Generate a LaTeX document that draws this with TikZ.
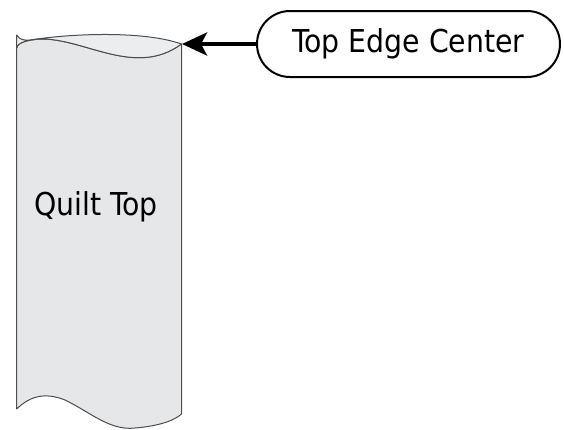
\documentclass[tikz,border=0pt]{standalone}
\usepackage{fontspec}
\setmainfont{DejaVu Sans Condensed}
\usetikzlibrary{arrows.meta}
\definecolor{quiltfill}{HTML}{E6E7E8}
\definecolor{quiltback}{HTML}{ECEDEE}
\definecolor{quiltline}{HTML}{4D4D4D}

\begin{document}
\begin{tikzpicture}[x=1pt,y=-1pt,font=\fontsize{31.5}{37}\selectfont,
   edgeline/.style={draw=quiltline,line width=1pt,line join=round},
   callout/.style={draw=black,line width=2pt,rounded corners=33pt,minimum width=303pt,minimum height=66pt,inner sep=0pt},
   pointer/.style={line width=4.5pt,-{Stealth[length=25pt,width=23pt,inset=6pt]}}]
\useasboundingbox (0,0) rectangle (564,429);
% strip of fabric: body first, then the curled top edge over it
\fill[quiltfill,edgeline] (16.7,48) -- (16.7,409)
  .. controls (30,396) and (45,392) .. (65,400)
  .. controls (90,412) and (110,431) .. (135,428)
  .. controls (160,426) and (175,420) .. (181.5,414)
  -- (181.5,44) .. controls (135,78) and (85,38) .. (40,39)
  .. controls (28,40) and (18,42) .. cycle;
\fill[quiltback,edgeline] (16.7,35) .. controls (20,40) and (24,40.5) .. (30,40)
  .. controls (75,33) and (145,31) .. (181.5,44)
  .. controls (135,78) and (85,38) .. (40,39)
  .. controls (28,40) and (18,42) .. (16.7,48) -- cycle;
\node (quilt) at (96,207) {Quilt Top};
% label and its arrow to the middle of the top edge
\node[callout] (label) at (408.5,44) {Top Edge Center};
\coordinate (edge) at (182,44);
\draw[pointer] (label.west) -- (edge);
\end{tikzpicture}
\end{document}
